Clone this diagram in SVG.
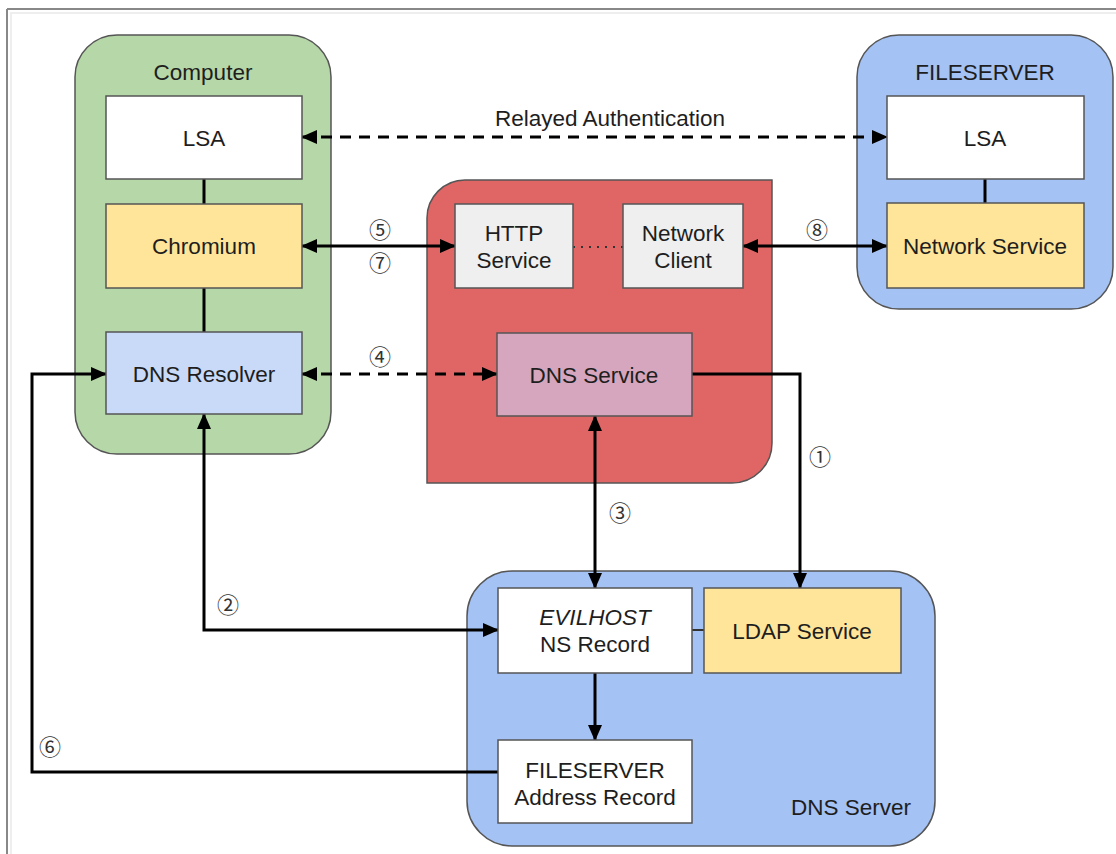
<svg xmlns="http://www.w3.org/2000/svg" width="1116" height="854" viewBox="0 0 1116 854">
<style>
.t{font-family:"Liberation Sans",Arial,sans-serif;font-size:22.5px;fill:#1e1e1e;text-anchor:middle}
.n{font-family:"Noto Sans CJK JP","DejaVu Sans",sans-serif;font-size:22px;fill:#333;text-anchor:middle}
.box{stroke:#555;stroke-width:1.5}
.c{fill:none;stroke:#000;stroke-width:3}
.d{stroke-dasharray:11,8}
</style>
<defs>
<marker id="ah" markerUnits="userSpaceOnUse" markerWidth="16" markerHeight="14" refX="15" refY="7" orient="auto-start-reverse">
<path d="M0,0 L16,7 L0,14 Z" fill="#000"/>
</marker>
</defs>
<rect width="1116" height="854" fill="#fff"/>
<g id="frame">
<line x1="7" y1="9" x2="1116" y2="9" stroke="#888" stroke-width="2"/>
<line x1="7" y1="9" x2="7" y2="854" stroke="#888" stroke-width="2"/>
<line x1="10" y1="13" x2="1116" y2="13" stroke="#eee" stroke-width="2"/>
<line x1="11" y1="13" x2="11" y2="854" stroke="#eee" stroke-width="2"/>
</g>
<g id="computer">
<rect class="box" x="75" y="35" width="256" height="419" rx="42" fill="#b6d7a8"/>
<text class="t" x="203" y="80">Computer</text>
</g>
<g id="fileserver">
<rect class="box" x="857" y="35" width="256" height="274" rx="42" fill="#a4c2f4"/>
<text class="t" x="985" y="80">FILESERVER</text>
</g>
<g id="attacker">
<path class="box" d="M465,180 H772 V443 A40,40 0 0 1 732,483 H427 V218 A38,38 0 0 1 465,180 Z" fill="#e06666"/>
</g>
<g id="dnsserver">
<rect class="box" x="467" y="571" width="468" height="275" rx="45" fill="#a4c2f4"/>
<text class="t" x="851" y="815">DNS Server</text>
</g>
<g id="connectors">
<line x1="204" y1="179" x2="204" y2="204" class="c"/>
<line x1="204" y1="288" x2="204" y2="332" class="c"/>
<line x1="985" y1="179" x2="985" y2="203" class="c"/>
<line x1="302" y1="137" x2="887" y2="137" class="c d" marker-start="url(#ah)" marker-end="url(#ah)"/>
<line x1="302" y1="246" x2="455" y2="246" class="c" marker-start="url(#ah)" marker-end="url(#ah)"/>
<line x1="743" y1="246" x2="887" y2="246" class="c" marker-start="url(#ah)" marker-end="url(#ah)"/>
<line x1="573" y1="247" x2="623" y2="247" stroke="#333" stroke-width="2" stroke-dasharray="2,6"/>
<line x1="302" y1="374" x2="497" y2="374" class="c d" marker-start="url(#ah)" marker-end="url(#ah)"/>
<polyline points="692,374 800,374 800,588" class="c" marker-end="url(#ah)"/>
<line x1="595" y1="416" x2="595" y2="588" class="c" marker-start="url(#ah)" marker-end="url(#ah)"/>
<polyline points="204,414 204,630 498,630" class="c" marker-start="url(#ah)" marker-end="url(#ah)"/>
<polyline points="498,772 32,772 32,374 106,374" class="c" marker-end="url(#ah)"/>
<line x1="595" y1="673" x2="595" y2="740" class="c" marker-end="url(#ah)"/>
<line x1="692" y1="630" x2="704" y2="630" stroke="#333" stroke-width="2"/>
<text class="t" x="610" y="126">Relayed Authentication</text>
<text class="n" x="380" y="238">⑤</text>
<text class="n" x="380" y="271">⑦</text>
<text class="n" x="817" y="238">⑧</text>
<text class="n" x="380" y="365">④</text>
<text class="n" x="820" y="465">①</text>
<text class="n" x="620" y="521">③</text>
<text class="n" x="228" y="613">②</text>
<text class="n" x="50" y="755">⑥</text>
</g>
<g id="lsa1">
<rect class="box" x="106" y="96" width="196" height="83" fill="#fff"/>
<text class="t" x="204" y="146">LSA</text>
</g>
<g id="chromium">
<rect class="box" x="106" y="204" width="196" height="84" fill="#ffe599"/>
<text class="t" x="204" y="254">Chromium</text>
</g>
<g id="dnsresolver">
<rect class="box" x="106" y="332" width="196" height="82" fill="#c9daf8"/>
<text class="t" x="204" y="382">DNS Resolver</text>
</g>
<g id="http">
<rect class="box" x="455" y="204" width="118" height="84" fill="#efefef"/>
<text class="t" x="514" y="241">HTTP</text>
<text class="t" x="514" y="268">Service</text>
</g>
<g id="netclient">
<rect class="box" x="623" y="204" width="120" height="84" fill="#efefef"/>
<text class="t" x="683" y="241">Network</text>
<text class="t" x="683" y="268">Client</text>
</g>
<g id="dnsservice">
<rect class="box" x="497" y="333" width="195" height="83" fill="#d5a6bd"/>
<text class="t" x="594" y="383">DNS Service</text>
</g>
<g id="lsa2">
<rect class="box" x="887" y="96" width="197" height="83" fill="#fff"/>
<text class="t" x="985" y="146">LSA</text>
</g>
<g id="netservice">
<rect class="box" x="887" y="203" width="197" height="85" fill="#ffe599"/>
<text class="t" x="985" y="254">Network Service</text>
</g>
<g id="nsrecord">
<rect class="box" x="498" y="588" width="194" height="85" fill="#fff"/>
<text class="t" x="595" y="625" font-style="italic">EVILHOST</text>
<text class="t" x="595" y="652">NS Record</text>
</g>
<g id="ldap">
<rect class="box" x="704" y="588" width="197" height="85" fill="#ffe599"/>
<text class="t" x="802" y="639">LDAP Service</text>
</g>
<g id="addrrecord">
<rect class="box" x="498" y="740" width="194" height="83" fill="#fff"/>
<text class="t" x="595" y="778">FILESERVER</text>
<text class="t" x="595" y="805">Address Record</text>
</g>
</svg>
